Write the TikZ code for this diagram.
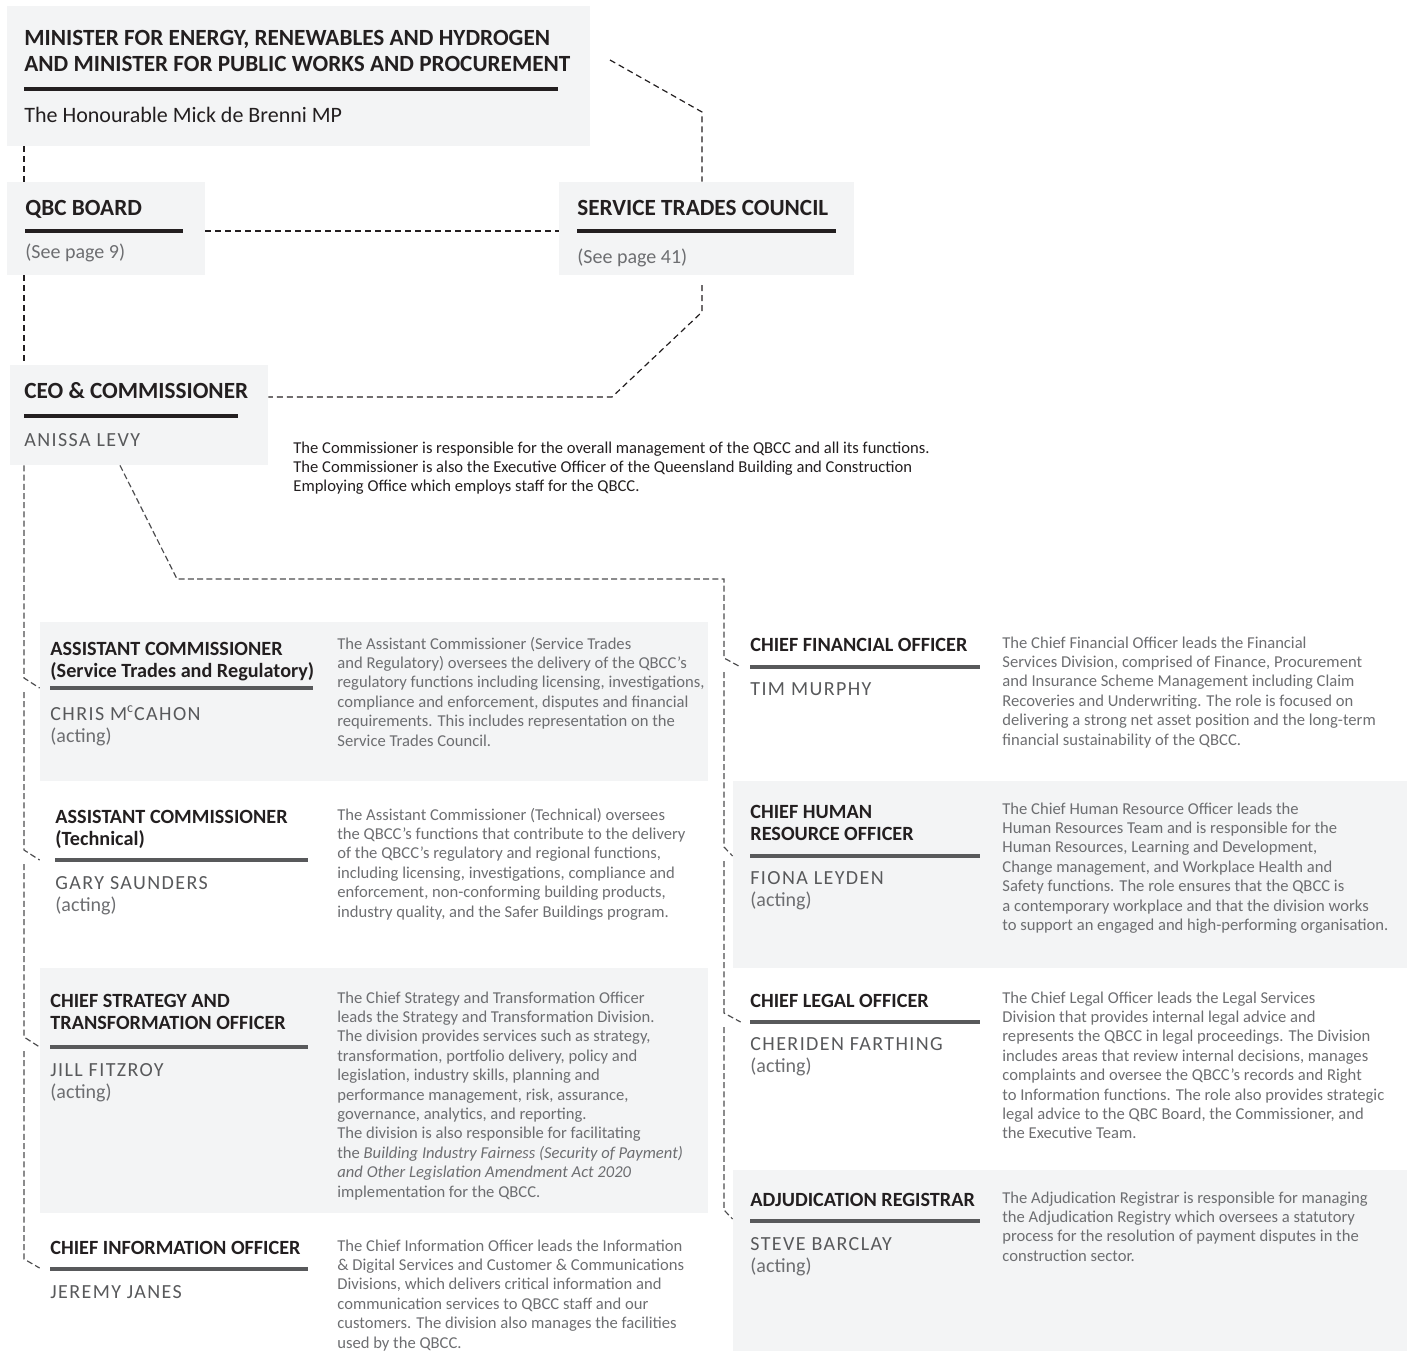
\documentclass[tikz,border=0pt]{standalone}
\usepackage{fontspec}
\setmainfont{Carlito}
\newfontfamily\namefont[LetterSpace=7]{Carlito}
\usetikzlibrary{fit,calc}
\definecolor{ink}{HTML}{231F20}
\definecolor{barg}{HTML}{58595B}
\definecolor{nameg}{HTML}{58595B}
\definecolor{descg}{HTML}{6D6E71}
\definecolor{boxg}{HTML}{F3F4F5}
\definecolor{lineg}{HTML}{4D4D4F}
\newcommand\rows[1]{\begin{tabular}[t]{@{}l@{}}#1\end{tabular}}
\newcommand\acting{\rmfamily\color{descg}(acting)}
\tikzset{
 box/.style={fill=boxg, draw=none, inner sep=0pt},
 zone/.style={draw=none, inner sep=0pt},
 bigttl/.style={anchor=base west, inner sep=0pt, text=ink, font=\fontsize{11.6}{13}\selectfont\bfseries},
 ttl/.style={anchor=base west, inner sep=0pt, text=ink, font=\fontsize{10.1}{11}\selectfont\bfseries},
 topbar/.style={draw=ink, line width=2pt},
 bar/.style={draw=barg, line width=2pt},
 sub/.style={anchor=base west, inner sep=0pt, text=ink, font=\fontsize{11}{12}\selectfont},
 ref/.style={anchor=base west, inner sep=0pt, text=descg, font=\fontsize{10}{11}\selectfont},
 nm/.style={anchor=base west, inner sep=0pt, text=nameg, font=\fontsize{10}{11.2}\selectfont\namefont},
 desc/.style={anchor=base west, inner sep=0pt, text=descg, font=\fontsize{8.3}{9.7}\selectfont},
 conn/.style={draw=ink, line width=0.6pt, dash pattern=on 3pt off 2pt},
 lconn/.style={draw=lineg, line width=0.6pt, dash pattern=on 3pt off 1.6pt},
}
\begin{document}
\begin{tikzpicture}[x=0.5pt,y=-0.5pt]
\useasboundingbox (0,0) rectangle (1407,1351);
% ---------- boxes ----------
\node[box, fit={(7,6)(590,146)}] (minbox) {};
\node[box, fit={(7,182)(205,275)}] (qbcbox) {};
\node[box, fit={(559,182)(854,275)}] (stcbox) {};
\node[box, fit={(10,365)(268,465)}] (ceobox) {};
\node[box, fit={(40,622)(708,781)}] (u1) {};
\node[zone, fit={(40,800)(708,940)}] (u2) {};
\node[box, fit={(40,968)(708,1213)}] (u3) {};
\node[zone, fit={(40,1230)(708,1351)}] (u4) {};
\node[zone, fit={(741,622)(1407,781)}] (r1) {};
\node[box, fit={(733,781)(1407,968)}] (r2) {};
\node[zone, fit={(741,985)(1407,1150)}] (r3) {};
\node[box, fit={(733,1170)(1407,1351)}] (r4) {};
% ---------- connectors ----------
\coordinate (spL) at (24,0);
\coordinate (minR) at (610,60);
\coordinate (stcS) at (702,285);
\draw[conn] (minbox.south -| spL) -- (qbcbox.north -| spL);
\draw[conn] (qbcbox.south -| spL) -- (ceobox.north -| spL);
\draw[conn] (minR) -- (702,112) -- (stcbox.north -| 702,0);
\draw[conn] (qbcbox.east |- 0,231) -- (stcbox.west |- 0,231);
\draw[conn] (stcS) -- (702,312) -- (612,397) -- (ceobox.east |- 612,397);
% right spine
\coordinate (jr1) at (724,672);
\coordinate (jr2) at (724,861);
\coordinate (jr3) at (724,1027);
\draw[lconn] (ceobox.south -| 120,0) -- (177,579) -- (724,579) -- (724,658) -- (r1.west |- 0,667);
\draw[lconn] (jr1) -- (724,847) -- (r2.west |- 0,856);
\draw[lconn] (jr2) -- (724,1013) -- (r3.west |- 0,1022);
\draw[lconn] (jr3) -- (724,1210) -- (r4.west |- 0,1219);
% left spine
\coordinate (jl1) at (24,692);
\coordinate (jl2) at (24,864);
\coordinate (jl3) at (24,1051);
\draw[lconn] (ceobox.south -| spL) -- (24,678) -- (u1.west |- 0,688);
\draw[lconn] (jl1) -- (24,850) -- (u2.west |- 0,860);
\draw[lconn] (jl2) -- (24,1037) -- (u3.west |- 0,1047);
\draw[lconn] (jl3) -- (24,1259) -- (u4.west |- 0,1268);
% ---------- top ----------
\node[bigttl] (minT) at (24,45) {\rows{MINISTER FOR ENERGY, RENEWABLES AND HYDROGEN\\AND MINISTER FOR PUBLIC WORKS AND PROCUREMENT}};
\draw[topbar] (24,89) -- (558,89);
\node[sub] (minN) at (24,122) {The Honourable Mick de Brenni MP};
\node[bigttl] (qbcT) at (25,215) {QBC BOARD};
\draw[topbar] (25,231) -- (183,231);
\node[ref] (qbcR) at (25,258) {(See page 9)};
\node[bigttl] (stcT) at (577,215) {SERVICE TRADES COUNCIL};
\draw[topbar] (577,231) -- (836,231);
\node[ref] (stcR) at (577,263) {(See page 41)};
\node[bigttl] (ceoT) at (24,398) {CEO \& COMMISSIONER};
\draw[topbar] (24,416) -- (238,416);
\node[nm] (ceoN) at (24,446) {ANISSA LEVY};
\node[desc, text=ink] (ceoD) at (293,453) {\rows{The Commissioner is responsible for the overall management of the QBCC and all its functions.\\The Commissioner is also the Executive Officer of the Queensland Building and Construction\\Employing Office which employs staff for the QBCC.}};
% ---------- left units ----------
\node[ttl] (u1T) at (50,655) {\rows{ASSISTANT COMMISSIONER\\(Service Trades and Regulatory)}};
\draw[bar] (50,688) -- (313,688);
\node[nm] (u1N) at (50,720) {\rows{CHRIS M\textsuperscript{c}CAHON\\\acting}};
\node[desc] (u1D) at (337,649) {\rows{The Assistant Commissioner (Service Trades\\and Regulatory) oversees the delivery of the QBCC’s\\regulatory functions including licensing, investigations,\\compliance and enforcement, disputes and financial\\requirements. This includes representation on the\\Service Trades Council.}};

\node[ttl] (u2T) at (55,823) {\rows{ASSISTANT COMMISSIONER\\(Technical)}};
\draw[bar] (55,860) -- (308,860);
\node[nm] (u2N) at (55,889) {\rows{GARY SAUNDERS\\\acting}};
\node[desc] (u2D) at (337,820) {\rows{The Assistant Commissioner (Technical) oversees\\the QBCC’s functions that contribute to the delivery\\of the QBCC’s regulatory and regional functions,\\including licensing, investigations, compliance and\\enforcement, non-conforming building products,\\industry quality, and the Safer Buildings program.}};

\node[ttl] (u3T) at (50,1007) {\rows{CHIEF STRATEGY AND\\TRANSFORMATION OFFICER}};
\draw[bar] (50,1047) -- (308,1047);
\node[nm] (u3N) at (50,1076) {\rows{JILL FITZROY\\\acting}};
\node[desc] (u3D) at (337,1003) {\rows{The Chief Strategy and Transformation Officer\\leads the Strategy and Transformation Division.\\The division provides services such as strategy,\\transformation, portfolio delivery, policy and\\legislation, industry skills, planning and\\performance management, risk, assurance,\\governance, analytics, and reporting.\\The division is also responsible for facilitating\\the \textit{Building Industry Fairness (Security of Payment)}\\\textit{and Other Legislation Amendment Act 2020}\\implementation for the QBCC.}};

\node[ttl] (u4T) at (50,1254) {CHIEF INFORMATION OFFICER};
\draw[bar] (50,1269) -- (308,1269);
\node[nm] (u4N) at (50,1298) {JEREMY JANES};
\node[desc] (u4D) at (337,1251) {\rows{The Chief Information Officer leads the Information\\\& Digital Services and Customer \& Communications\\Divisions, which delivers critical information and\\communication services to QBCC staff and our\\customers. The division also manages the facilities\\used by the QBCC.}};
% ---------- right units ----------
\node[ttl] (r1T) at (750,651) {CHIEF FINANCIAL OFFICER};
\draw[bar] (750,667) -- (980,667);
\node[nm] (r1N) at (750,695) {TIM MURPHY};
\node[desc] (r1D) at (1002,648) {\rows{The Chief Financial Officer leads the Financial\\Services Division, comprised of Finance, Procurement\\and Insurance Scheme Management including Claim\\Recoveries and Underwriting. The role is focused on\\delivering a strong net asset position and the long-term\\financial sustainability of the QBCC.}};

\node[ttl] (r2T) at (750,818) {\rows{CHIEF HUMAN\\RESOURCE OFFICER}};
\draw[bar] (750,856) -- (980,856);
\node[nm] (r2N) at (750,884) {\rows{FIONA LEYDEN\\\acting}};
\node[desc] (r2D) at (1002,814) {\rows{The Chief Human Resource Officer leads the\\Human Resources Team and is responsible for the\\Human Resources, Learning and Development,\\Change management, and Workplace Health and\\Safety functions. The role ensures that the QBCC is\\a contemporary workplace and that the division works\\to support an engaged and high-performing organisation.}};

\node[ttl] (r3T) at (750,1007) {CHIEF LEGAL OFFICER};
\draw[bar] (750,1022) -- (980,1022);
\node[nm] (r3N) at (750,1050) {\rows{CHERIDEN FARTHING\\\acting}};
\node[desc] (r3D) at (1002,1003) {\rows{The Chief Legal Officer leads the Legal Services\\Division that provides internal legal advice and\\represents the QBCC in legal proceedings. The Division\\includes areas that review internal decisions, manages\\complaints and oversee the QBCC’s records and Right\\to Information functions. The role also provides strategic\\legal advice to the QBC Board, the Commissioner, and\\the Executive Team.}};

\node[ttl] (r4T) at (750,1206) {ADJUDICATION REGISTRAR};
\draw[bar] (750,1221) -- (980,1221);
\node[nm] (r4N) at (750,1250) {\rows{STEVE BARCLAY\\\acting}};
\node[desc] (r4D) at (1002,1203) {\rows{The Adjudication Registrar is responsible for managing\\the Adjudication Registry which oversees a statutory\\process for the resolution of payment disputes in the\\construction sector.}};
\end{tikzpicture}
\end{document}
